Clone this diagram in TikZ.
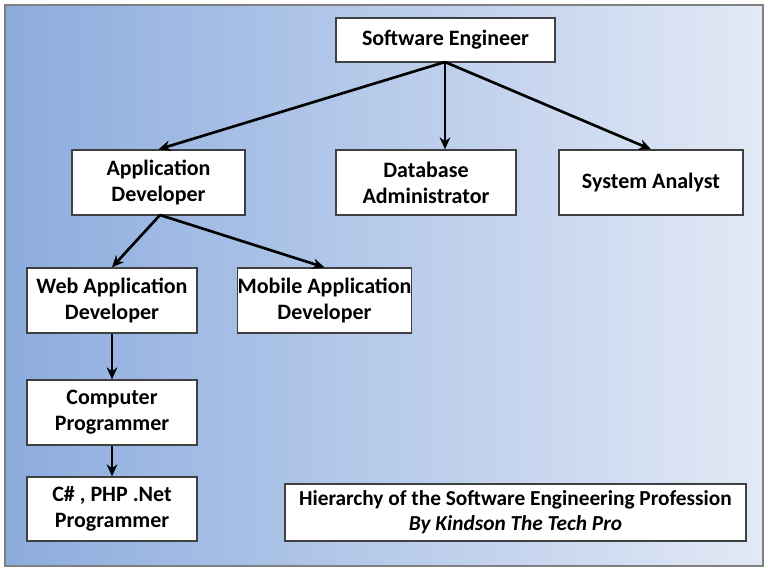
\documentclass[tikz,border=0pt]{standalone}
\usepackage{fontspec}
\setmainfont{Carlito}
\usetikzlibrary{arrows.meta,shadows}
\begin{document}
\begin{tikzpicture}[x=0.75pt,y=-0.75pt,
  box/.style={draw=black!75,line width=1pt,fill=white,align=center,inner sep=0pt,font=\fontsize{16.5}{19.5}\selectfont\bfseries},
  conn/.style={line width=2pt,-{Stealth[length=9pt,width=8pt]}}]
\useasboundingbox (0,0) rectangle (768,572);
\fill[white] (0,0) rectangle (768,572);
\shade[left color={rgb,255:red,140;green,172;blue,222},right color={rgb,255:red,226;green,233;blue,246}] (5,5) rectangle (763,566);
\draw[black!50,line width=1pt] (5,5) rectangle (763,566);
\node[box,minimum width=164.25pt,minimum height=33pt] (se) at (445.5,40) {Software Engineer};
\node[box,minimum width=129.75pt,minimum height=48.75pt] (ad) at (158.5,182.5) {Application\\Developer};
\node[box,minimum width=135pt,minimum height=48.75pt] (db) at (426,182.5) {Database\\Administrator};
\node[box,minimum width=138pt,minimum height=48.75pt] (sa) at (651,182.5) {System Analyst};
\node[box,minimum width=127.5pt,minimum height=48.75pt] (wa) at (112,300.5) {Web Application\\Developer};
\node[box,minimum width=129.75pt,minimum height=48.75pt] (ma) at (324.5,300.5) {Mobile Application\\Developer};
\node[box,minimum width=127.5pt,minimum height=48.75pt] (cp) at (112,412.5) {Computer\\Programmer};
\node[box,minimum width=127.5pt,minimum height=48pt] (cs) at (112,509) {C\# , PHP .Net\\Programmer};
\node[box,minimum width=345.75pt,minimum height=42.75pt,font=\fontsize{16}{18}\selectfont] (tt) at (515.5,512.5) {\bfseries Hierarchy of the Software Engineering Profession\\[1pt]{\bfseries\itshape By Kindson The Tech Pro}};
\coordinate (seb) at (445,62);
\draw[conn] (seb) -- (ad.north);
\draw[conn] (seb) -- (db.north -| seb);
\draw[conn] (seb) -- (sa.north);
\coordinate (adb) at (160,215);
\draw[conn] (adb) -- (wa.north);
\draw[conn] (adb) -- (ma.north);
\draw[conn] (wa.south) -- (cp.north);
\draw[conn] (cp.south) -- (cs.north);
\end{tikzpicture}
\end{document}
